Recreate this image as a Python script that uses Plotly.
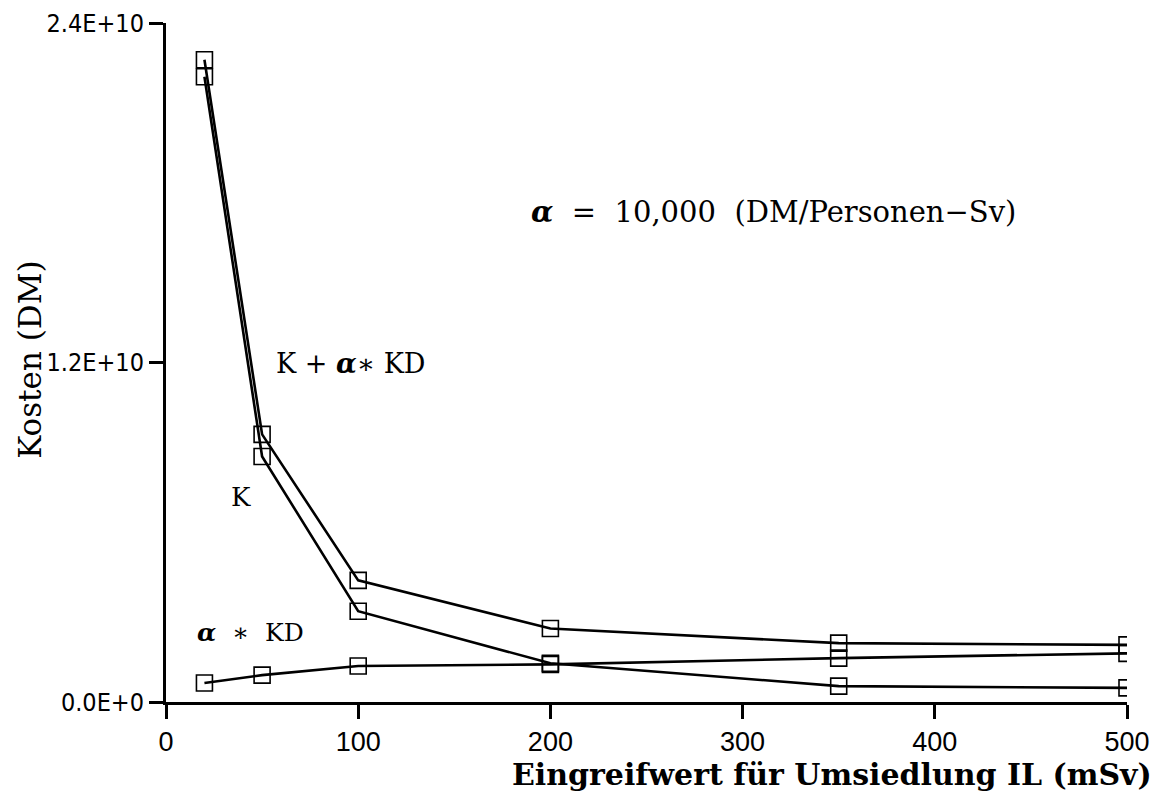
import plotly.graph_objects as go

# Data
il_msv = [20, 50, 100, 200, 350, 500]
k_plus_alpha_kd = [22.7e9, 9.46e9, 4.30e9, 2.60e9, 2.08e9, 2.02e9]
k_costs = [22.1e9, 8.68e9, 3.21e9, 1.37e9, 0.56e9, 0.50e9]
alpha_kd = [0.67e9, 0.95e9, 1.27e9, 1.33e9, 1.55e9, 1.72e9]

y_tickvals = [0, 1.2e10, 2.4e10]
y_ticktext = ["0.0E+0", "1.2E+10", "2.4E+10"]
x_tickvals = [0, 100, 200, 300, 400, 500]
x_ticktext = ["0", "100", "200", "300", "400", "500"]

serif = "DejaVu Serif, Liberation Serif, serif"
sans = "Liberation Sans, Arial, sans-serif"
cond = "DejaVu Sans Condensed, Liberation Sans Narrow, Liberation Sans, sans-serif"

marker = dict(symbol="square-open", size=16, color="black", line=dict(width=1.6, color="black"))
line = dict(color="black", width=2.6)

fig = go.Figure()
for name, ys in [("K + α∗KD", k_plus_alpha_kd), ("K", k_costs), ("α∗KD", alpha_kd)]:
    fig.add_trace(go.Scatter(x=il_msv, y=ys, mode="lines+markers", name=name,
                             line=line, marker=marker, showlegend=False))

fig.update_layout(
    width=1164, height=794,
    margin=dict(l=158, r=45, t=15, b=100),
    paper_bgcolor="white", plot_bgcolor="white",
    showlegend=False,
)
fig.update_xaxes(
    range=[0, 500], tickvals=x_tickvals, ticktext=x_ticktext, automargin=False,
    showline=True, linecolor="black", linewidth=3, showgrid=False, zeroline=False,
    ticks="outside", ticklen=14, tickwidth=3, tickcolor="black",
    tickfont=dict(family=sans, size=27, color="black"),
)
fig.update_yaxes(
    range=[0, 2.4e10], tickvals=y_tickvals, ticktext=y_ticktext, automargin=False,
    showline=True, linecolor="black", linewidth=3, showgrid=False, zeroline=False,
    ticks="outside", ticklen=14, tickwidth=3, tickcolor="black",
    tickfont=dict(family=cond, size=25, color="black"),
)

annots = [
    dict(x=0.693, y=-0.1075, xref="paper", yref="paper", text="<b>Eingreifwert für Umsiedlung IL (mSv)</b>",
         font=dict(family=serif, size=30, color="black"), showarrow=False, xanchor="center", yanchor="middle"),
    dict(x=-0.1415, y=0.504, xref="paper", yref="paper", text="Kosten (DM)", textangle=-90,
         font=dict(family=serif, size=31, color="black"), showarrow=False, xanchor="center", yanchor="middle"),
    dict(x=0.193, y=0.499, xref="paper", yref="paper", text="K + <b><i>α</i></b>∗ KD",
         font=dict(family=serif, size=27, color="black"), showarrow=False, xanchor="center", yanchor="middle"),
    dict(x=0.078, y=0.302, xref="paper", yref="paper", text="K",
         font=dict(family=serif, size=26, color="black"), showarrow=False, xanchor="center", yanchor="middle"),
    dict(x=0.088, y=0.102, xref="paper", yref="paper", text="<b><i>α</i></b>  ∗  KD",
         font=dict(family=serif, size=25, color="black"), showarrow=False, xanchor="center", yanchor="middle"),
    dict(x=0.632, y=0.722, xref="paper", yref="paper", text="<b><i>α</i></b>  =  10,000  (DM/Personen−Sv)",
         font=dict(family=serif, size=29, color="black"), showarrow=False, xanchor="center", yanchor="middle"),
]
fig.update_layout(annotations=annots)

fig.write_html("out.html")
